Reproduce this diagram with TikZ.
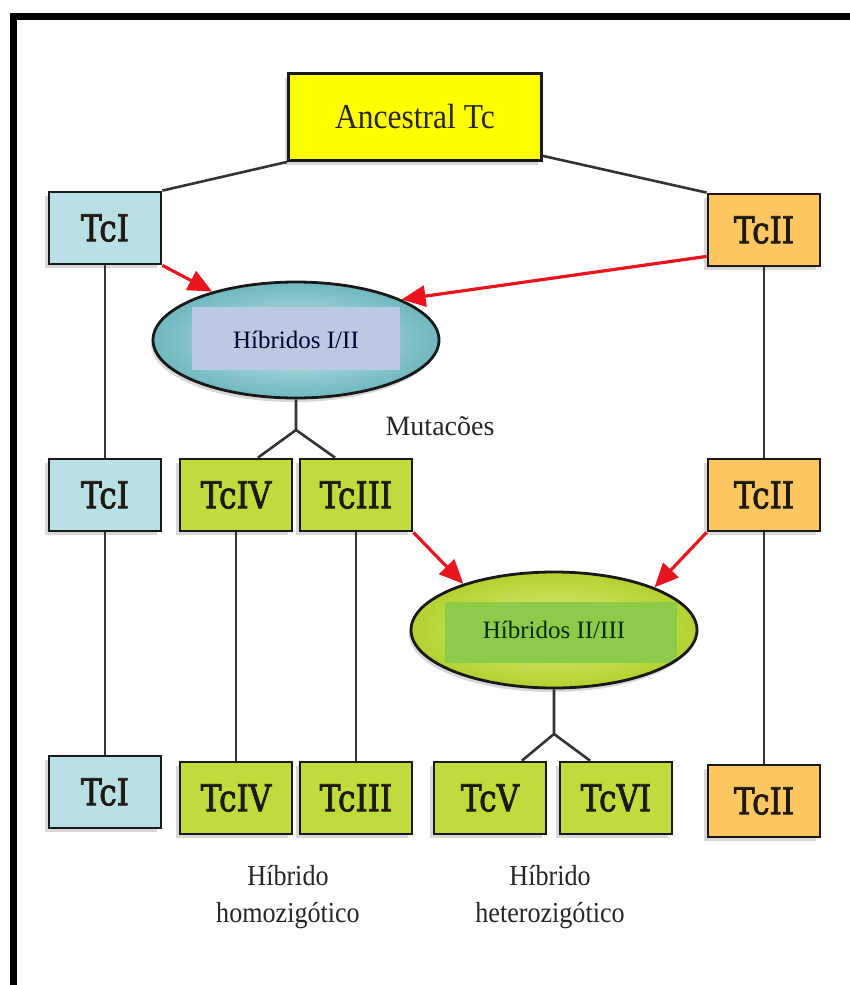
\documentclass[tikz,border=0pt]{standalone}
\usepackage{fontspec}
\setmainfont{Liberation Serif}
\newfontfamily\tcfont{DejaVu Serif}[FakeStretch=0.84,FakeBold=2]
\newfontfamily\ancfont{Liberation Serif}[FakeStretch=0.9]
\usetikzlibrary{arrows.meta,shapes.geometric,shadows}
\definecolor{tcblue}{HTML}{B9E0E4}
\definecolor{tcorange}{HTML}{FCC661}
\definecolor{tcgreen}{HTML}{BFDC3C}
\definecolor{tcyellow}{HTML}{FFFF00}
\definecolor{tealout}{HTML}{6FB8BE}
\definecolor{tealin}{HTML}{C8E6E9}
\definecolor{lavrect}{HTML}{BACAE2}
\definecolor{limeout}{HTML}{B2D12E}
\definecolor{limein}{HTML}{E2EE84}
\definecolor{greenrect}{HTML}{8FCB4B}
\definecolor{arrowred}{HTML}{E8141E}
\definecolor{linkgray}{HTML}{333333}
\definecolor{tcink}{HTML}{1E1A12}
\begin{document}
\begin{tikzpicture}[x=1pt,y=-1pt,
    tcbox/.style={draw=black!90, line width=2.8pt, minimum width=112pt, minimum height=72pt, inner sep=0pt,
      text=tcink, font=\tcfont\fontsize{37}{40}\selectfont,
      drop shadow={shadow xshift=-4pt, shadow yshift=-4pt, opacity=0.3}},
    hybnode/.style={ellipse, draw=black!90, line width=2.8pt, minimum width=286pt, minimum height=116pt,
      inner sep=0pt, font=\fontsize{25}{28}\selectfont,
      drop shadow={shadow xshift=-2pt, shadow yshift=-4pt, opacity=0.3}},
    link/.style={draw=linkgray, line width=2.6pt},
    redarrow/.style={draw=arrowred, line width=3.2pt, -{Triangle[length=24pt,width=21pt]}},
    caption/.style={align=center, font=\ancfont\fontsize{29}{37}\selectfont, text=black!85}]
  \useasboundingbox (0,0) rectangle (850,985);
  \fill[white] (0,0) rectangle (850,985);
  \draw[line width=7.5pt] (13.5,985) -- (13.5,16.5) -- (850,16.5);
  \node[tcbox, fill=tcyellow, minimum width=253pt, minimum height=87pt, text=black!85, font=\ancfont\fontsize{35}{38}\selectfont] (anc) at (415,117) {Ancestral Tc};
  \node[tcbox, fill=tcblue] (tc1a) at (105,228) {TcI};
  \node[tcbox, fill=tcorange] (tc2a) at (764,230) {TcII};
  \node[hybnode, inner color=tealin, outer color=tealout, text=black!80!blue,
    path picture={\fill[lavrect] ([shift={(-104pt,-30pt)}]path picture bounding box.center) rectangle ([shift={(104pt,33pt)}]path picture bounding box.center);}] (hyb1) at (296,340) {Híbridos I/II};
  \node[tcbox, fill=tcblue] (tc1b) at (105,495) {TcI};
  \node[tcbox, fill=tcgreen] (tc4b) at (236,495) {TcIV};
  \node[tcbox, fill=tcgreen] (tc3b) at (356,495) {TcIII};
  \node[tcbox, fill=tcorange] (tc2b) at (764,495) {TcII};
  \node[font=\fontsize{28}{32}\selectfont, text=black!85] (mut) at (440,426) {Mutacões};
  \node[hybnode, inner color=limein, outer color=limeout, text=black!70!green!60!black,
    path picture={\fill[greenrect] ([shift={(-109pt,-33pt)}]path picture bounding box.center) rectangle ([shift={(123pt,28pt)}]path picture bounding box.center);}] (hyb2) at (554,630) {Híbridos II/III};
  \node[tcbox, fill=tcblue] (tc1c) at (105,792) {TcI};
  \node[tcbox, fill=tcgreen] (tc4c) at (236,798) {TcIV};
  \node[tcbox, fill=tcgreen] (tc3c) at (356,798) {TcIII};
  \node[tcbox, fill=tcgreen] (tc5c) at (490,798) {TcV};
  \node[tcbox, fill=tcgreen] (tc6c) at (616,798) {TcVI};
  \node[tcbox, fill=tcorange] (tc2c) at (764,801) {TcII};
  \node[caption] (homo) at (288,897) {Híbrido\\homozigótico};
  \node[caption] (hetero) at (550,897) {Híbrido\\heterozigótico};
  \draw[link] (anc.south west) -- (tc1a.north east);
  \draw[link] ([yshift=6pt]anc.south east) -- (tc2a.north west);
  \draw[link] (tc1a) -- (tc1b);
  \draw[link] (tc1b) -- (tc1c);
  \draw[link] (tc2a) -- (tc2b);
  \draw[link] (tc2b) -- (tc2c);
  \draw[link] (tc4b) -- (tc4c);
  \draw[link] (tc3b) -- (tc3c);
  \coordinate (fork1) at (296,430);
  \draw[link] (hyb1.south) -- (fork1) -- ([xshift=22pt]tc4b.north);
  \draw[link] (fork1) -- ([xshift=-21pt]tc3b.north);
  \coordinate (fork2) at (554,734);
  \draw[link] (hyb2.south) -- (fork2) -- ([xshift=32pt]tc5c.north);
  \draw[link] (fork2) -- ([xshift=-26pt]tc6c.north);
  \draw[redarrow] (tc1a.south east) -- (hyb1.150);
  \draw[redarrow] ([yshift=11pt]tc2a.south west) -- (hyb1.21);
  \draw[redarrow] (tc3b.south east) -- (hyb2.153);
  \draw[redarrow] (tc2b.south west) -- (hyb2.23);
\end{tikzpicture}
\end{document}
